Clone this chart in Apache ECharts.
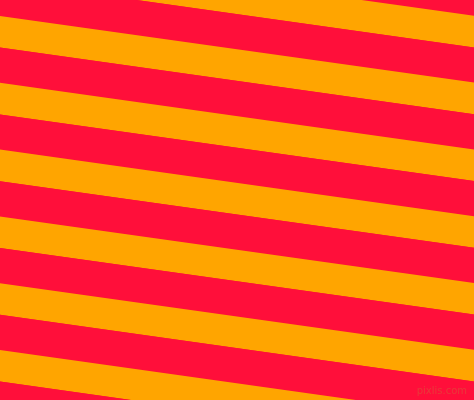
<!DOCTYPE html>
<html>
<head>
<meta charset="utf-8">
<script src="https://cdn.jsdelivr.net/npm/echarts@6/dist/echarts.min.js"></script>
<style>
html,body{margin:0;padding:0;background:#FF0F3A;}
#chart{width:474px;height:400px;}
</style>
</head>
<body>
<div id="chart"></div>
<script>
// x positions of the two edges (left, right)
const xLabels = ['0', '474'];
// first stripe boundary (y at left edge, y at right edge)
const firstEdge = [-117.6, -51.0];
// band thicknesses measured vertically: orange, red (repeating)
const orangeBand = [31.6, 31.6];
const redBand = [35.2, 35.2];
const bandColors = ['#FFA500', '#FF0F3A'];
const periods = 9;
const watermark = 'pixlis.com';

const series = [{
  type: 'line', stack: 's', stackStrategy: 'all', data: firstEdge, symbol: 'none',
  lineStyle: { width: 0 }, silent: true
}];
for (let p = 0; p < periods; p++) {
  series.push({
    type: 'line', stack: 's', stackStrategy: 'all', data: orangeBand, symbol: 'none',
    lineStyle: { width: 0 }, areaStyle: { color: bandColors[0], opacity: 1 }, silent: true
  });
  series.push({
    type: 'line', stack: 's', stackStrategy: 'all', data: redBand, symbol: 'none',
    lineStyle: { width: 0 }, areaStyle: { color: bandColors[1], opacity: 1 }, silent: true
  });
}

const chart = echarts.init(document.getElementById('chart'), null, { renderer: 'canvas' });
chart.setOption({
  animation: false,
  backgroundColor: '#FF0F3A',
  grid: { left: 0, right: 0, top: 0, bottom: 0 },
  xAxis: { type: 'category', data: xLabels, boundaryGap: false, show: false },
  yAxis: { type: 'value', min: 0, max: 400, inverse: true, show: false },
  series: series,
  graphic: [{
    type: 'text', right: 7, bottom: 4, z: 100,
    style: { text: watermark, font: '10px "DejaVu Sans"', fill: '#E83A3A' }
  }]
});
</script>
</body>
</html>
